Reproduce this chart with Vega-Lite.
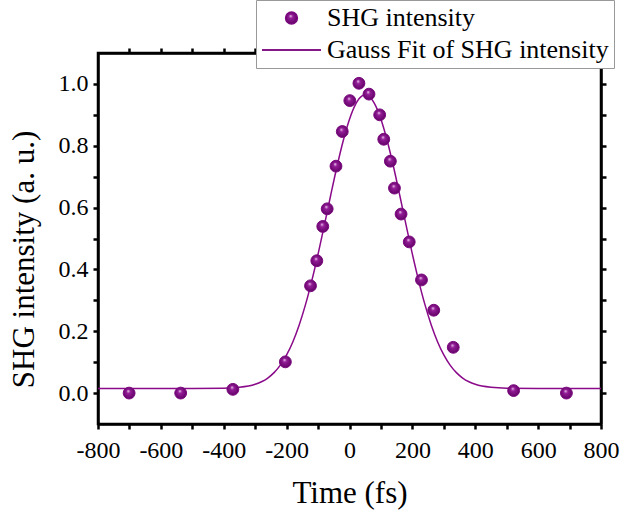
{
  "$schema": "https://vega.github.io/schema/vega-lite/v6.json",
  "width": 503,
  "height": 371,
  "autosize": {"type": "none"},
  "padding": {"left": 98, "top": 53, "right": 19, "bottom": 92},
  "background": "white",
  "view": {"stroke": "black", "strokeWidth": 2.5},
  "config": {
    "font": "Liberation Serif",
    "axis": {"labelFont": "Liberation Serif", "titleFont": "Liberation Serif", "labelColor": "black", "titleColor": "black", "domainColor": "black", "tickColor": "black", "domainWidth": 2.5, "tickWidth": 2.5, "grid": false, "titleFontWeight": "normal"}
  },
  "datasets": {
    "pts": [
      {"t": -701, "v": 0.0}, {"t": -537, "v": 0.0}, {"t": -371, "v": 0.012}, {"t": -204, "v": 0.101},
      {"t": -124, "v": 0.347}, {"t": -104, "v": 0.428}, {"t": -85, "v": 0.539}, {"t": -71, "v": 0.596},
      {"t": -43, "v": 0.734}, {"t": -23, "v": 0.846}, {"t": 1, "v": 0.946}, {"t": 30, "v": 1.002},
      {"t": 62, "v": 0.967}, {"t": 96, "v": 0.9}, {"t": 109, "v": 0.821}, {"t": 130, "v": 0.75},
      {"t": 143, "v": 0.663}, {"t": 164, "v": 0.579}, {"t": 190, "v": 0.489}, {"t": 229, "v": 0.366},
      {"t": 268, "v": 0.268}, {"t": 330, "v": 0.148}, {"t": 522, "v": 0.008}, {"t": 690, "v": 0.0}
    ],
    "fit": [
      {"t": -800, "v": 0.015}, {"t": -500, "v": 0.0151}, {"t": -400, "v": 0.0158}, {"t": -350, "v": 0.0187},
      {"t": -300, "v": 0.0285}, {"t": -280, "v": 0.0366}, {"t": -260, "v": 0.0487}, {"t": -240, "v": 0.0661}, {"t": -220, "v": 0.0904}, {"t": -200, "v": 0.1233},
      {"t": -180, "v": 0.1661}, {"t": -160, "v": 0.2203}, {"t": -140, "v": 0.286}, {"t": -120, "v": 0.3631},
      {"t": -100, "v": 0.4496}, {"t": -80, "v": 0.5431}, {"t": -60, "v": 0.639}, {"t": -40, "v": 0.732},
      {"t": -20, "v": 0.8162}, {"t": 0, "v": 0.886}, {"t": 20, "v": 0.9357}, {"t": 40, "v": 0.9617},
      {"t": 50, "v": 0.965}, {"t": 60, "v": 0.9617}, {"t": 80, "v": 0.9357}, {"t": 100, "v": 0.886},
      {"t": 120, "v": 0.8162}, {"t": 140, "v": 0.732}, {"t": 160, "v": 0.639}, {"t": 180, "v": 0.5431},
      {"t": 200, "v": 0.4496}, {"t": 220, "v": 0.3631}, {"t": 240, "v": 0.286}, {"t": 260, "v": 0.2203},
      {"t": 280, "v": 0.1661}, {"t": 300, "v": 0.1233}, {"t": 320, "v": 0.0904}, {"t": 340, "v": 0.0661},
      {"t": 360, "v": 0.0487}, {"t": 380, "v": 0.0366}, {"t": 400, "v": 0.0285}, {"t": 450, "v": 0.0187},
      {"t": 500, "v": 0.0158}, {"t": 600, "v": 0.0151}, {"t": 800, "v": 0.015}
    ]
  },
  "layer": [
    {
      "data": {"name": "fit"},
      "mark": {"type": "line", "strokeWidth": 1.5, "interpolate": "monotone", "clip": true},
      "encoding": {
        "x": {"field": "t", "type": "quantitative", "scale": {"domain": [-800, 800], "nice": false, "zero": false},
          "axis": {"orient": "top", "values": [-700, -600, -500, -400, -300, -200, -100, 0, 100, 200, 300, 400, 500, 600, 700], "labels": false, "title": null,
            "encode": {"ticks": {"update": {"y2": {"signal": "datum.value % 200 == 0 ? 7 : 4"}}}}}},
        "y": {"field": "v", "type": "quantitative", "scale": {"domain": [-0.1, 1.1], "nice": false, "zero": false},
          "axis": {"orient": "right", "values": [0, 0.1, 0.2, 0.3, 0.4, 0.5, 0.6, 0.7, 0.8, 0.9, 1.0], "labels": false, "title": null,
            "encode": {"ticks": {"update": {"x2": {"signal": "round(datum.value*10) % 2 == 0 ? -7 : -4"}}}}}},
        "color": {"datum": "Gauss Fit of SHG intensity", "type": "nominal",
          "scale": {"domain": ["Gauss Fit of SHG intensity"], "range": ["#8a0a8a"]},
          "legend": {"orient": "none", "legendX": 158, "legendY": -53, "padding": 5, "columns": 1, "clipHeight": 26,
            "title": "SHG intensity", "titleOpacity": 0, "titleFont": "Liberation Serif", "titleFontSize": 26, "titleFontWeight": "normal", "titlePadding": 6, "titleLimit": 400,
            "strokeColor": "#999999", "fillColor": "white", "labelFont": "Liberation Serif", "labelFontSize": 26, "labelOpacity": 0,
            "symbolType": "stroke", "symbolSize": 3481, "symbolStrokeWidth": 1.5, "labelOffset": 5, "labelLimit": 400}}
      }
    },
    {
      "data": {"name": "pts"},
      "transform": [{"calculate": "'SHG intensity'", "as": "series"}],
      "mark": {"type": "point", "filled": true, "opacity": 1, "stroke": "#7a087e", "strokeWidth": 1,
        "fill": {"gradient": "radial", "x1": 0.42, "y1": 0.32, "r1": 0, "x2": 0.5, "y2": 0.5, "r2": 0.55,
          "stops": [{"offset": 0, "color": "#f6e2f6"}, {"offset": 0.28, "color": "#951d99"}, {"offset": 1, "color": "#5e0062"}]}},
      "encoding": {
        "x": {"field": "t", "type": "quantitative",
          "axis": {"orient": "bottom", "values": [-800, -700, -600, -500, -400, -300, -200, -100, 0, 100, 200, 300, 400, 500, 600, 700, 800],
            "labelExpr": "datum.value % 200 == 0 ? ('' + datum.value) : ''", "labelFontSize": 24, "labelPadding": 9, "labelFlush": false,
            "title": "Time (fs)", "titleFontSize": 31, "titlePadding": 16,
            "encode": {"ticks": {"update": {"y2": {"signal": "datum.value % 200 == 0 ? 7 : 4"}}}}}},
        "y": {"field": "v", "type": "quantitative",
          "axis": {"orient": "left", "values": [0, 0.1, 0.2, 0.3, 0.4, 0.5, 0.6, 0.7, 0.8, 0.9, 1.0], "format": ".1f",
            "labelExpr": "round(datum.value*10) % 2 == 0 ? datum.label : ''", "labelFontSize": 24, "labelPadding": 5,
            "title": "SHG intensity (a. u.)", "titleFontSize": 31, "titlePadding": 18, "titleY": 206,
            "encode": {"ticks": {"update": {"x2": {"signal": "round(datum.value*10) % 2 == 0 ? -7 : -4"}}}}}},
        "shape": {"field": "series", "type": "nominal",
          "scale": {"domain": ["SHG intensity", "Gauss Fit of SHG intensity"], "range": ["circle", "stroke"]},
          "legend": {"orient": "none", "legendX": 158, "legendY": -53, "title": null, "padding": 5, "columns": 1, "clipHeight": 26,
            "strokeColor": null, "fillColor": null, "labelFont": "Liberation Serif", "labelFontSize": 26, "labelColor": "black",
            "symbolStrokeWidth": 1.5, "labelOffset": 5, "rowPadding": 6, "labelLimit": 400}},
        "size": {"field": "series", "type": "nominal",
          "scale": {"domain": ["SHG intensity", "Gauss Fit of SHG intensity"], "range": [140, 3481]},
          "legend": {"orient": "none", "legendX": 158, "legendY": -53, "title": null, "padding": 5, "columns": 1, "clipHeight": 26,
            "strokeColor": null, "fillColor": null, "labelFont": "Liberation Serif", "labelFontSize": 26, "labelColor": "black",
            "symbolStrokeWidth": 1.5, "labelOffset": 5, "rowPadding": 6, "labelLimit": 400}}
      }
    }
  ],
  "resolve": {"axis": {"x": "independent", "y": "independent"}}
}
